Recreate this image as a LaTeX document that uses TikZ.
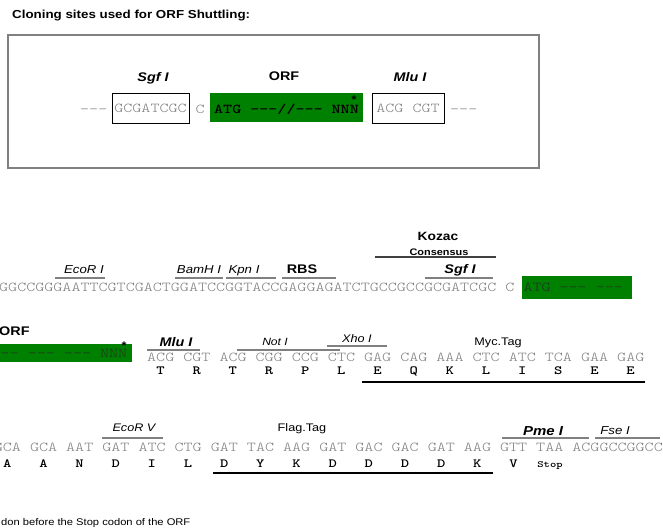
\documentclass[tikz,border=0pt]{standalone}
\usepackage{fontspec}
\setmainfont{Liberation Sans}[FakeStretch=1.15]
\setmonofont{lmmonolt10-regular}[Extension=.otf, BoldFont=lmmonolt10-bold, FakeStretch=1.266]
\definecolor{orfgreen}{RGB}{0,128,0}
\definecolor{dnagray}{RGB}{128,128,128}
\definecolor{boxgray}{RGB}{128,128,128}
\definecolor{ovlgray}{RGB}{128,128,128}
\definecolor{ongreen}{RGB}{35,50,35}
\tikzset{
  dna/.style={inner sep=0pt, anchor=base west, text=dnagray, font=\ttfamily\fontsize{13.6}{14}\selectfont},
  aa/.style={inner sep=0pt, anchor=base, font=\ttfamily\bfseries\fontsize{12.5}{13}\selectfont},
  ilab/.style={inner sep=0pt, anchor=base, font=\itshape\fontsize{11.5}{12}\selectfont},
  bilab/.style={inner sep=0pt, anchor=base, font=\bfseries\itshape\fontsize{12.5}{13}\selectfont},
  blab/.style={inner sep=0pt, anchor=base, font=\bfseries\fontsize{12.5}{13}\selectfont},
  rlab/.style={inner sep=0pt, anchor=base, font=\fontsize{11}{12}\selectfont},
  sitebox/.style={draw=black, line width=1pt, inner sep=0pt, text=dnagray, font=\ttfamily\fontsize{13.6}{14}\selectfont},
  ovl/.style={draw=ovlgray, line width=1.6pt},
  udl/.style={draw=black, line width=1.8pt},
  starmark/.style={inner sep=0pt, anchor=base, font=\bfseries\fontsize{11}{11}\selectfont}
}
\begin{document}
\begin{tikzpicture}[x=1pt,y=-1pt]
\clip (0,0) rectangle (663,531);
\fill[white] (0,0) rectangle (663,531);

% title
\node[inner sep=0pt, anchor=base west, font=\bfseries\fontsize{11.6}{12}\selectfont] (title) at (12,18.5) {Cloning sites used for ORF Shuttling:};

% top box
\draw[boxgray, line width=1.5pt] (8,35) rectangle (539,168);
\node[bilab] (sgf0) at (153,81) {Sgf I};
\node[blab] (orf0) at (284,80) {ORF};
\node[bilab] (mlu0) at (410,81) {Mlu I};
\node[dna] (ldash0) at (80,113) {---};
\node[sitebox, minimum width=77pt, minimum height=30pt] (sgfbox) at (150.5,108) {GCGATCGC};
\node[dna] (c0) at (195.5,113) {C};
\fill[orfgreen] (210,93) rectangle (363,122);
\node[dna, text=black, font=\ttfamily\bfseries\fontsize{13.6}{14}\selectfont] (orftext0) at (214,113) {ATG ---//--- NNN};
\node[starmark] (star0) at (354,103.5) {*};
\node[sitebox, minimum width=72pt, minimum height=30pt] (mlubox) at (408,108) {ACG CGT};
\node[dna] (rdash0) at (450,113) {---};

% row 1
\node[dna] (seq1) at (-1,291) {GGCCGGGAATTCGTCGACTGGATCCGGTACCGAGGAGATCTGCCGCCGCGATCGC C};
\fill[orfgreen] (522,276) rectangle (632,299);
\node[dna, text=ongreen] (orf1) at (523.3,291) {ATG --- ---};
\draw[ovl] (55,278) -- (105,278);
\draw[ovl] (175,278) -- (223,278);
\draw[ovl] (226,278) -- (276,278);
\draw[ovl] (282,278) -- (336,278);
\draw[ovl] (425,278) -- (493,278);
\draw[draw=black!75, line width=1.6pt] (375,257) -- (496,257);
\node[ilab] (ecori) at (84,273) {EcoR I};
\node[ilab] (bamhi) at (199,273) {BamH I};
\node[ilab] (kpni) at (244,273) {Kpn I};
\node[blab] (rbs) at (302,273) {RBS};
\node[bilab] (sgf1) at (460,273) {Sgf I};
\node[inner sep=0pt, anchor=base, font=\bfseries\fontsize{12}{12}\selectfont] (kozac) at (438,240) {Kozac};
\node[inner sep=0pt, anchor=base, font=\bfseries\fontsize{9.5}{10}\selectfont] (consensus) at (439,255) {Consensus};

% row 2
\node[inner sep=0pt, anchor=base west, font=\bfseries\fontsize{12.5}{13}\selectfont] (orf2lab) at (-1,335) {ORF};
\fill[orfgreen] (-2,344) rectangle (132,362);
\node[dna, text=ongreen] (orf2) at (-8.5,357) {--- --- --- NNN};
\node[starmark] (star2) at (124,349.5) {*};
\node[dna] (seq2) at (147,361) {ACG CGT ACG CGG CCG CTC GAG CAG AAA CTC ATC TCA GAA GAG};
\foreach \a [count=\i from 0] in {T,R,T,R,P,L,E,Q,K,L,I,S,E,E}
  \node[aa] (aa2-\i) at ({160.56+36.16*\i},374) {\a};
\draw[ovl] (147,350) -- (200,350);
\draw[ovl] (237,350) -- (340,350);
\draw[ovl] (327,346) -- (387,346);
\node[bilab] (mlu2) at (176,346) {Mlu I};
\node[inner sep=0pt, anchor=base, font=\itshape\fontsize{10.5}{11}\selectfont] (noti) at (275,345) {Not I};
\node[inner sep=0pt, anchor=base, font=\itshape\fontsize{11}{11}\selectfont] (xhoi) at (357,342) {Xho I};
\node[rlab] (myc) at (498,345) {Myc.Tag};
\draw[udl] (362,382) -- (645,382);

% row 3
\node[dna] (seq3) at (-6.3,451) {GCA GCA AAT GAT ATC CTG GAT TAC AAG GAT GAC GAC GAT AAG GTT TAA ACGGCCGGCC};
\foreach \a [count=\i from 0] in {A,A,N,D,I,L,D,Y,K,D,D,D,D,K,V}
  \node[aa] (aa3-\i) at ({7.26+36.16*\i},467) {\a};
\node[aa, font=\ttfamily\bfseries\fontsize{9.5}{10}\selectfont] (stop) at (550,467) {Stop};
\draw[ovl] (102,438) -- (163,438);
\draw[ovl] (502,438) -- (589,438);
\draw[ovl] (595,438) -- (660,438);
\node[inner sep=0pt, anchor=base, font=\itshape\fontsize{11}{11}\selectfont] (ecorv) at (134,431) {EcoR V};
\node[rlab] (flag) at (302,431) {Flag.Tag};
\node[inner sep=0pt, anchor=base, font=\bfseries\itshape\fontsize{13}{13}\selectfont] (pmei) at (543,435) {Pme I};
\node[ilab] (fsei) at (615,434) {Fse I};
\draw[udl] (213,473) -- (493,473);

% footnote
\node[inner sep=0pt, anchor=base west, font=\fontsize{9.7}{10}\selectfont] (note) at (1,525) {don before the Stop codon of the ORF};
\end{tikzpicture}
\end{document}
